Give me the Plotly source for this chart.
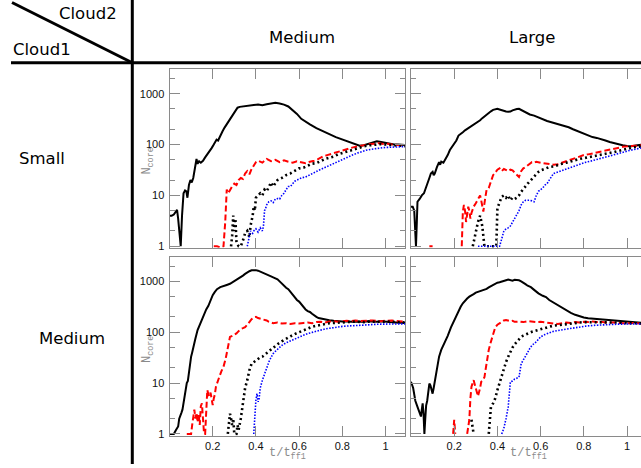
import plotly.graph_objects as go

# ---------------- data (t/t_ff1, N_core) ----------------
# Panel TL: Cloud1=Small, Cloud2=Medium
TL_BLACK = [(0.0,4),(0.01,4),(0.02,4.2),(0.03,5),(0.035,5.2),(0.04,3.5),(0.047,1.5),(0.052,1.0),(0.058,4),(0.065,11),
            (0.072,12.5),(0.078,12),(0.083,9),(0.09,16),(0.097,20),(0.103,18),(0.11,22),(0.118,35),(0.125,52),(0.13,42),
            (0.137,47),(0.145,44),(0.155,48),(0.165,56),(0.175,64),(0.185,72),(0.195,85),(0.205,100),(0.212,115),(0.218,125),
            (0.225,120),(0.235,150),(0.245,180),(0.255,215),(0.265,250),(0.275,285),(0.285,320),(0.295,380),(0.305,450),(0.315,530),
            (0.325,550),(0.335,560),(0.345,565),(0.355,580),(0.365,575),(0.375,590),(0.39,600),(0.41,610),(0.43,590),(0.45,620),
            (0.47,640),(0.49,660),(0.51,640),(0.53,610),(0.55,560),(0.57,480),(0.59,400),(0.61,320),(0.63,280),(0.65,250),
            (0.68,210),(0.71,180),(0.74,160),(0.77,140),(0.80,125),(0.83,112),(0.86,100),(0.88,95),(0.90,97),(0.92,102),
            (0.94,110),(0.96,116),(0.98,112),(1.00,108),(1.02,104),(1.04,100),(1.06,100),(1.09,98)]
TL_RED = [(0.205,1),(0.22,1),(0.235,0.95),(0.25,1),(0.258,3),(0.265,13),(0.272,11),(0.28,13),(0.29,15),(0.30,17),
          (0.31,16),(0.32,20),(0.33,22),(0.34,21),(0.35,27),(0.36,30),(0.37,26),(0.38,33),(0.39,38),(0.40,45),
          (0.41,48),(0.42,46),(0.43,44),(0.44,48),(0.45,52),(0.47,47),(0.49,50),(0.51,45),(0.53,49),(0.55,46),
          (0.57,44),(0.59,47),(0.61,45),(0.63,43),(0.65,46),(0.67,48),(0.69,52),(0.71,58),(0.73,62),(0.75,66),
          (0.77,70),(0.79,74),(0.81,78),(0.83,82),(0.85,88),(0.87,92),(0.89,96),(0.91,100),(0.93,102),(0.95,104),
          (0.97,106),(0.99,103),(1.01,104),(1.03,100),(1.05,100),(1.07,97),(1.09,96)]
TL_BDOT = [(0.285,1),(0.29,1.6),(0.295,4),(0.30,2),(0.305,3.5),(0.31,1.2),(0.32,1),(0.33,1),(0.34,1.3),(0.35,1.8),
           (0.36,2),(0.37,1.5),(0.375,2.5),(0.385,4),(0.39,6),(0.395,5),(0.40,9),(0.41,10),(0.42,11),(0.43,10),
           (0.44,13),(0.45,12),(0.46,15),(0.47,18),(0.48,15),(0.49,17),(0.50,20),(0.52,22),(0.54,25),(0.56,27),
           (0.58,30),(0.60,34),(0.62,35),(0.64,38),(0.66,42),(0.68,43),(0.70,48),(0.72,52),(0.74,55),(0.76,58),
           (0.78,64),(0.80,68),(0.82,74),(0.84,78),(0.86,82),(0.88,88),(0.90,92),(0.92,96),(0.94,98),(0.96,100),
           (0.98,102),(1.00,100),(1.02,98),(1.05,95),(1.09,93)]
TL_BLUE = [(0.36,1),(0.37,1.6),(0.375,2),(0.385,1.8),(0.39,2),(0.40,2.2),(0.41,1.9),(0.42,2.3),(0.43,2.0),(0.435,2.5),
           (0.44,5),(0.445,5.6),(0.45,6.5),(0.46,7.5),(0.47,7.8),(0.48,7.2),(0.49,8.5),(0.50,8.7),(0.51,8.5),(0.52,10),
           (0.53,11),(0.54,13),(0.55,15),(0.56,15),(0.57,17),(0.58,19),(0.59,20),(0.61,22),(0.63,23),(0.65,25),
           (0.67,28),(0.69,31),(0.71,34),(0.73,37),(0.75,41),(0.77,45),(0.79,49),(0.81,53),(0.83,58),(0.85,63),
           (0.87,68),(0.89,73),(0.91,77),(0.93,80),(0.95,83),(0.97,85),(0.99,87),(1.01,88),(1.04,90),(1.09,91)]

# Panel TR: Cloud1=Small, Cloud2=Large
TR_BLACK = [(0.0,6),(0.008,6),(0.015,5),(0.02,2),(0.023,1),(0.027,3),(0.03,7.5),(0.04,8.5),(0.05,10),(0.06,11),
            (0.07,14),(0.077,18),(0.085,22),(0.092,27),(0.10,29),(0.105,25),(0.11,27),(0.12,36),(0.13,45),(0.135,40),
            (0.14,46),(0.15,44),(0.16,52),(0.17,62),(0.18,78),(0.19,90),(0.20,100),(0.21,120),(0.22,150),(0.23,160),
            (0.24,175),(0.25,190),(0.26,203),(0.27,215),(0.28,225),(0.29,245),(0.30,260),(0.31,275),(0.32,300),(0.33,330),
            (0.34,360),(0.35,390),(0.36,420),(0.37,450),(0.38,480),(0.39,500),(0.40,505),(0.41,490),(0.42,470),(0.43,460),
            (0.44,445),(0.45,440),(0.46,445),(0.47,470),(0.48,490),(0.49,500),(0.50,505),(0.51,480),(0.52,460),(0.53,430),
            (0.54,410),(0.55,390),(0.57,370),(0.59,340),(0.61,310),(0.63,290),(0.65,275),(0.67,260),(0.69,245),(0.71,230),
            (0.73,218),(0.75,200),(0.77,185),(0.80,162),(0.82,150),(0.84,140),(0.86,135),(0.88,129),(0.90,120),(0.92,112),
            (0.94,106),(0.96,103),(0.98,97),(1.00,94),(1.02,93),(1.04,96),(1.06,99),(1.08,100),(1.09,98)]
TR_RED = [(0.085,1),(0.10,1),(None,None),(0.235,1),(0.24,4.8),(0.245,6.5),(0.25,5),(0.255,3),(0.26,4),(0.265,6),
          (0.27,5),(0.275,3.5),(0.28,4.5),(0.29,6),(0.30,7),(0.31,8.7),(0.32,10),(0.325,8),(0.33,6),(0.335,4.8),
          (0.34,7),(0.345,10),(0.35,13),(0.36,14),(0.37,18),(0.38,25),(0.39,28),(0.40,32),(0.41,34),(0.42,30),
          (0.43,33),(0.44,32),(0.45,30),(0.46,32),(0.47,31),(0.48,28),(0.49,25),(0.50,23),(0.51,30),(0.52,34),
          (0.53,36),(0.54,39),(0.55,42),(0.56,45),(0.57,44),(0.58,46),(0.60,44),(0.62,43),(0.64,42),(0.66,40),
          (0.68,41),(0.70,44),(0.72,48),(0.74,50),(0.76,54),(0.78,58),(0.80,62),(0.82,64),(0.84,67),(0.86,70),
          (0.88,72),(0.90,75),(0.92,78),(0.94,82),(0.96,86),(0.98,90),(1.00,92),(1.03,95),(1.06,97),(1.09,98)]
TR_BDOT = [(0.286,1),(0.295,1.5),(0.30,2),(0.31,3),(0.32,4),(0.325,3),(0.33,2.5),(0.34,1),(0.36,1),(0.38,1),
           (0.395,1),(0.40,5.6),(0.41,7),(0.42,9.4),(0.43,10),(0.44,9),(0.45,10),(0.46,8),(0.47,9),(0.48,8.5),
           (0.49,9),(0.50,10),(0.51,11.8),(0.52,13),(0.53,15),(0.54,17),(0.55,19),(0.56,21),(0.57,23),(0.58,26),
           (0.59,29),(0.60,31),(0.62,34),(0.64,36),(0.66,37),(0.68,40),(0.70,42),(0.72,44),(0.74,47),(0.76,50),
           (0.78,52),(0.80,54),(0.82,56),(0.84,58),(0.86,60),(0.88,62),(0.90,64),(0.92,67),(0.94,71),(0.96,75),
           (0.98,79),(1.00,83),(1.03,88),(1.06,91),(1.09,93)]
TR_BLUE = [(0.31,1),(0.33,1),(0.35,1),(0.37,1),(0.39,1),(0.41,1),(0.42,1.4),(0.43,2),(0.44,2.2),(0.45,2.3),
           (0.46,2.5),(0.47,3),(0.48,3.5),(0.49,4.1),(0.50,5),(0.51,6.5),(0.52,7.5),(0.53,8),(0.54,8.1),(0.55,8),
           (0.56,7.8),(0.57,7.5),(0.58,10),(0.59,12),(0.60,13),(0.61,14),(0.62,16),(0.63,17),(0.64,20),(0.65,23),
           (0.66,27),(0.67,28),(0.69,30),(0.71,32),(0.73,34),(0.75,36),(0.77,39),(0.79,42),(0.81,45),(0.83,47),
           (0.85,50),(0.87,52),(0.89,55),(0.91,58),(0.93,61),(0.95,63),(0.97,68),(0.99,72),(1.01,76),(1.03,80),
           (1.06,86),(1.09,90)]

# Panel BL: Cloud1=Medium, Cloud2=Medium
BL_BLACK = [(0.0,1),(0.02,1),(0.03,1.2),(0.04,1.4),(0.045,2),(0.05,2.2),(0.055,2.6),(0.06,3),(0.065,4),(0.07,6),
            (0.075,8.5),(0.08,10),(0.085,11),(0.09,16),(0.095,25),(0.10,33),(0.105,40),(0.11,51),(0.12,75),(0.13,110),
            (0.14,140),(0.15,185),(0.16,230),(0.17,280),(0.18,330),(0.19,430),(0.20,535),(0.21,620),(0.22,700),(0.235,770),
            (0.25,800),(0.265,850),(0.28,895),(0.29,950),(0.30,1000),(0.31,1080),(0.32,1150),(0.33,1200),(0.34,1300),(0.35,1400),
            (0.36,1500),(0.37,1580),(0.38,1650),(0.39,1680),(0.40,1660),(0.41,1620),(0.42,1560),(0.43,1500),(0.44,1450),(0.45,1380),
            (0.46,1300),(0.47,1250),(0.48,1200),(0.49,1150),(0.50,1100),(0.51,1000),(0.52,900),(0.53,820),(0.54,750),(0.55,700),
            (0.56,620),(0.57,540),(0.58,480),(0.59,430),(0.60,400),(0.61,350),(0.62,310),(0.63,280),(0.64,260),(0.65,250),
            (0.66,230),(0.67,210),(0.68,200),(0.69,190),(0.70,185),(0.72,178),(0.74,172),(0.76,168),(0.78,165),(0.80,162),
            (0.82,165),(0.84,160),(0.86,163),(0.88,162),(0.90,160),(0.92,165),(0.94,162),(0.96,160),(0.98,165),(1.00,160),
            (1.02,158),(1.05,155),(1.09,152)]
BL_RED = [(0.08,1),(0.09,1),(0.10,1),(0.105,1.5),(0.11,2.5),(0.115,3),(0.12,2),(0.125,2.6),(0.13,1.7),(0.135,2.5),
          (0.14,1.5),(0.145,3.5),(0.15,4),(0.155,2),(0.16,1),(0.165,1),(0.17,4),(0.175,7.3),(0.18,6),(0.185,5.5),
          (0.19,6.5),(0.195,4.5),(0.20,3.7),(0.205,5),(0.21,6),(0.215,8.5),(0.22,10),(0.23,13),(0.24,17),(0.25,21),
          (0.26,30),(0.27,50),(0.28,81),(0.29,85),(0.30,90),(0.31,95),(0.32,105),(0.33,115),(0.34,120),(0.35,126),
          (0.36,140),(0.37,160),(0.38,180),(0.39,195),(0.40,200),(0.41,190),(0.42,185),(0.43,180),(0.44,180),(0.45,170),
          (0.46,160),(0.48,150),(0.50,155),(0.52,148),(0.54,150),(0.56,145),(0.58,150),(0.60,148),(0.62,152),(0.64,155),
          (0.66,150),(0.68,158),(0.70,160),(0.72,155),(0.74,162),(0.76,165),(0.78,160),(0.80,165),(0.82,168),(0.84,165),
          (0.86,170),(0.88,166),(0.90,168),(0.92,165),(0.94,170),(0.96,168),(0.98,165),(1.00,168),(1.03,170),(1.06,165),
          (1.09,160)]
BL_BDOT = [(0.27,1),(0.275,1.6),(0.28,2.5),(0.285,2),(0.29,1.5),(0.295,2),(0.30,1),(0.31,1),(0.315,1.5),(0.32,1.2),
           (0.33,2),(0.34,4),(0.345,6.2),(0.35,8),(0.36,11.4),(0.37,18),(0.38,24),(0.39,26),(0.40,28),(0.41,30),
           (0.42,32),(0.43,33),(0.44,36),(0.45,38),(0.46,41),(0.47,45),(0.48,50),(0.50,58),(0.52,66),(0.54,75),
           (0.56,83),(0.58,92),(0.60,100),(0.62,110),(0.64,120),(0.66,128),(0.68,134),(0.70,140),(0.72,145),(0.74,150),
           (0.76,152),(0.78,155),(0.80,158),(0.82,160),(0.84,160),(0.86,162),(0.88,160),(0.90,158),(0.92,162),(0.94,160),
           (0.96,158),(0.98,160),(1.00,162),(1.04,160),(1.09,155)]
BL_BLUE = [(0.39,1),(0.395,2.5),(0.40,4.6),(0.405,6.2),(0.41,4.3),(0.415,5),(0.42,8),(0.43,11.4),(0.44,15),(0.45,21),
           (0.46,26),(0.47,32),(0.48,38),(0.49,42),(0.50,46),(0.51,50),(0.52,55),(0.54,62),(0.56,68),(0.58,74),
           (0.60,80),(0.62,87),(0.64,94),(0.66,100),(0.68,106),(0.70,110),(0.72,116),(0.74,120),(0.76,124),(0.78,128),
           (0.80,130),(0.82,132),(0.84,134),(0.86,136),(0.88,138),(0.90,140),(0.92,141),(0.94,142),(0.96,143),(0.98,144),
           (1.00,145),(1.04,146),(1.09,146)]

# Panel BR: Cloud1=Medium, Cloud2=Large
BR_BLACK = [(0.0,10.6),(0.005,9),(0.01,8),(0.015,6),(0.02,4.5),(0.03,3.4),(0.04,2.5),(0.046,2.2),(0.05,3),(0.054,4),
            (0.058,2.5),(0.062,1),(0.066,2),(0.07,3.6),(0.075,4.5),(0.08,7),(0.085,9.8),(0.09,9),(0.095,7),(0.10,6.2),
            (0.105,8),(0.11,10.6),(0.12,18),(0.13,33),(0.14,45),(0.15,55),(0.16,70),(0.17,85),(0.185,125),(0.20,170),
            (0.21,220),(0.22,270),(0.23,316),(0.24,370),(0.25,420),(0.26,460),(0.27,500),(0.28,540),(0.29,560),(0.30,600),
            (0.31,620),(0.32,650),(0.33,680),(0.34,700),(0.35,710),(0.36,760),(0.37,800),(0.38,850),(0.39,900),(0.40,940),
            (0.41,960),(0.42,980),(0.43,1000),(0.44,1050),(0.45,1080),(0.46,1060),(0.47,1030),(0.48,1070),(0.49,1070),(0.50,1050),
            (0.51,1000),(0.52,950),(0.53,880),(0.54,820),(0.555,770),(0.57,680),(0.59,580),(0.61,520),(0.625,490),(0.64,430),
            (0.66,380),(0.69,316),(0.72,270),(0.74,240),(0.76,220),(0.78,205),(0.80,195),(0.82,188),(0.84,185),(0.86,182),
            (0.88,180),(0.90,175),(0.92,170),(0.94,168),(0.96,165),(0.98,162),(1.00,160),(1.03,158),(1.06,155),(1.09,150)]
BR_RED = [(0.195,1),(0.20,1.9),(0.205,1),(None,None),(0.26,1),(0.265,1.5),(0.27,1.9),(0.275,5),(0.28,8.5),(0.29,11.4),
          (0.30,8),(0.305,6.2),(0.31,5.5),(0.32,8),(0.325,10.6),(0.33,11),(0.34,13),(0.345,18),(0.35,25),(0.355,33),
          (0.36,45),(0.37,65),(0.38,90),(0.39,125),(0.40,140),(0.41,150),(0.42,160),(0.43,170),(0.44,174),(0.45,170),
          (0.46,165),(0.47,168),(0.48,160),(0.50,162),(0.52,158),(0.54,165),(0.56,160),(0.58,158),(0.60,160),(0.62,155),
          (0.64,150),(0.66,148),(0.68,145),(0.70,150),(0.72,155),(0.74,152),(0.76,158),(0.78,155),(0.80,160),(0.82,158),
          (0.84,162),(0.86,158),(0.88,160),(0.90,156),(0.92,158),(0.94,155),(0.96,152),(0.98,150),(1.00,150),(1.03,152),
          (1.06,148),(1.09,145)]
BR_BDOT = [(0.28,1.9),(0.285,1.4),(0.29,1),(None,None),(0.36,1),(0.365,1.6),(0.37,3.4),(0.38,4),(0.39,5),(0.40,7.3),
           (0.41,10),(0.42,15),(0.43,20),(0.44,26),(0.45,33),(0.46,42),(0.47,50),(0.48,58),(0.49,65),(0.50,72),
           (0.51,81),(0.52,86),(0.54,95),(0.56,102),(0.58,108),(0.60,115),(0.62,122),(0.64,128),(0.66,134),(0.68,138),
           (0.70,142),(0.72,146),(0.74,150),(0.76,152),(0.78,155),(0.80,158),(0.82,158),(0.84,160),(0.86,160),(0.88,160),
           (0.90,158),(0.92,158),(0.94,156),(0.96,155),(0.98,153),(1.00,150),(1.04,150),(1.09,148)]
BR_BLUE = [(0.42,1),(0.43,1.3),(0.44,2),(0.45,3.4),(0.46,10.6),(0.47,11),(0.48,12),(0.49,12.5),(0.50,13),(0.51,24),
           (0.52,28),(0.53,33),(0.54,40),(0.55,48),(0.56,55),(0.58,65),(0.60,81),(0.62,90),(0.64,97),(0.66,104),
           (0.69,110),(0.72,116),(0.75,122),(0.78,128),(0.81,132),(0.84,136),(0.88,140),(0.92,142),(0.96,144),(1.00,145),
           (1.04,146),(1.09,146)]

COL_LABELS = ["Medium", "Large"]          # Cloud2
ROW_LABELS = ["Small", "Medium"]          # Cloud1
X_TICKS = [0.2, 0.4, 0.6, 0.8, 1.0]
X_TICKTEXT = ["0.2", "0.4", "0.6", "0.8", "1"]
Y_TICKS = [1, 10, 100, 1000]
Y_TICKTEXT = ["1", "10", "100", "1000"]
Y_MINOR = [2, 5, 20, 50, 200, 500, 2000]

# ---------------- figure ----------------
W, H = 641, 468
fig = go.Figure()

STYLES = [
    dict(color="#000000", width=2.0, dash="solid"),
    dict(color="#ff0000", width=2.0, dash="6px,3px"),
    dict(color="#000000", width=2.6, dash="2px,3px"),
    dict(color="#0000ff", width=1.6, dash="1.5px,1.5px"),
]

panels = [
    ("x", "y", [TL_BLACK, TL_RED, TL_BDOT, TL_BLUE]),
    ("x2", "y2", [TR_BLACK, TR_RED, TR_BDOT, TR_BLUE]),
    ("x3", "y3", [BL_BLACK, BL_RED, BL_BDOT, BL_BLUE]),
    ("x4", "y4", [BR_BLACK, BR_RED, BR_BDOT, BR_BLUE]),
]
for xa, ya, series in panels:
    for s, st in zip(series, STYLES):
        fig.add_trace(go.Scatter(
            x=[p[0] for p in s], y=[p[1] for p in s], mode="lines",
            line=dict(color=st["color"], width=st["width"], dash=st["dash"]),
            xaxis=xa, yaxis=ya, showlegend=False, hoverinfo="skip"))

PX = 216.0          # pixels per unit t
left_l, left_r = 169.5, 405.0
right_l = 411.0
top_t, top_b = 70.0, 250.0
bot_t, bot_b = 259.3, 439.3
GRAY = "#8a8a8a"
TICKFONT = dict(family="Liberation Sans, Arial, sans-serif", size=11, color="#111111")
YRANGE = [-0.0315, 3.477]

def xaxis(dom, rng, labels):
    return dict(domain=dom, range=rng, showgrid=False, zeroline=False,
                showline=True, linecolor=GRAY, linewidth=1, mirror="ticks",
                ticks="inside", ticklen=10, tickcolor=GRAY, tickwidth=1,
                tickmode="array", tickvals=X_TICKS, ticktext=X_TICKTEXT,
                showticklabels=labels, tickfont=TICKFONT, ticklabelstandoff=0)

def yaxis(dom, labels, mirror):
    return dict(domain=dom, type="log", range=YRANGE, showgrid=False, zeroline=False,
                showline=True, linecolor=GRAY, linewidth=1, mirror=mirror,
                ticks="inside", ticklen=10, tickcolor=GRAY, tickwidth=1,
                tickmode="array", tickvals=Y_TICKS, ticktext=Y_TICKTEXT,
                minor=dict(ticks="inside", ticklen=5, tickcolor=GRAY, tickvals=Y_MINOR, showgrid=False),
                showticklabels=labels, tickfont=TICKFONT, ticklabelstandoff=2)

xl = [left_l / W, left_r / W]
xr = [right_l / W, 1.0]
yt = [1 - top_b / H, 1 - top_t / H]
yb = [1 - bot_b / H, 1 - bot_t / H]
rng_l = [0, (left_r - left_l) / PX]
rng_r = [0, (W - right_l) / PX]

fig.update_layout(
    width=W, height=H, margin=dict(l=0, r=0, t=0, b=0),
    paper_bgcolor="white", plot_bgcolor="white",
    xaxis=xaxis(xl, rng_l, False), yaxis=yaxis(yt, True, "ticks"),
    xaxis2=xaxis(xr, rng_r, False), yaxis2=yaxis(yt, False, False),
    xaxis3=xaxis(xl, rng_l, True), yaxis3=yaxis(yb, True, "ticks"),
    xaxis4=xaxis(xr, rng_r, True), yaxis4=yaxis(yb, False, False),
)
fig.layout.yaxis2.anchor = "x2"
fig.layout.yaxis3.anchor = "x3"
fig.layout.yaxis4.anchor = "x4"
fig.layout.xaxis.anchor = "y"
fig.layout.xaxis2.anchor = "y2"
fig.layout.xaxis3.anchor = "y3"
fig.layout.xaxis4.anchor = "y4"

# table lines
def px_line(x0, y0, x1, y1):
    fig.add_shape(type="line", xref="paper", yref="paper",
                  x0=x0 / W, y0=1 - y0 / H, x1=x1 / W, y1=1 - y1 / H,
                  line=dict(color="black", width=3))

px_line(11, 63.3, W, 63.3)
px_line(132.3, 0, 132.3, H)
px_line(12, 2.5, 132.3, 63.3)

HFONT = dict(family="DejaVu Sans, sans-serif", size=16.5, color="black")

def ann(text, x, y, xanchor="center", font=HFONT, angle=0):
    fig.add_annotation(text=text, xref="paper", yref="paper", x=x / W, y=1 - y / H,
                       xanchor=xanchor, yanchor="middle", showarrow=False, font=font,
                       textangle=angle)

ann("Cloud2", 119, 14, "right")
ann("Cloud1", 11, 50, "left")
ann(COL_LABELS[0], 302, 38)
ann(COL_LABELS[1], 532, 38)
ann(ROW_LABELS[0], 42, 160)
ann(ROW_LABELS[1], 72, 341)

TFONT = dict(family="Liberation Mono, Courier New, monospace", size=12, color=GRAY)
ann("N<sub>core</sub>", 148, 163, font=TFONT, angle=-90)
ann("N<sub>core</sub>", 148, 353, font=TFONT, angle=-90)
ann("t/t<sub>ff1</sub>", 287, 458, font=TFONT)
ann("t/t<sub>ff1</sub>", 528, 458, font=TFONT)

fig.write_html("out.html")
